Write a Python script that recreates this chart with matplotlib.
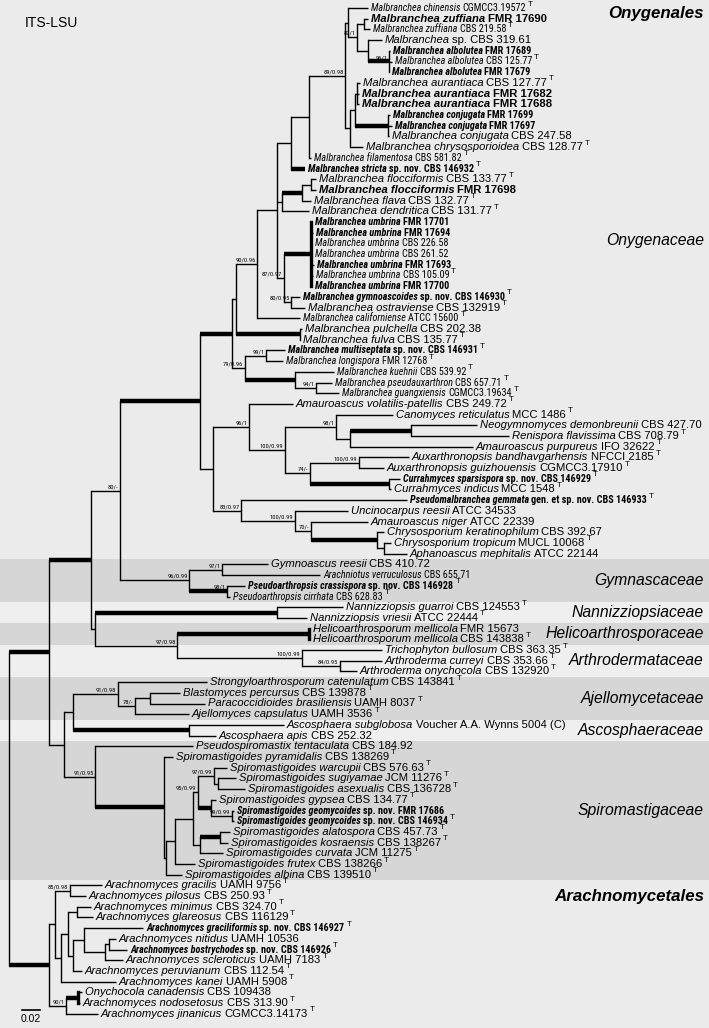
import os
import matplotlib
matplotlib.use("Agg")
import matplotlib.pyplot as plt
from matplotlib import font_manager
from matplotlib.font_manager import FontProperties

W, H = 709, 1028
ROW0, ROW_STEP = 8.0, 10.7

# tip labels, top to bottom
TAXA = [
    "Malbranchea chinensis", "Malbranchea zuffiana", "Malbranchea zuffiana", "Malbranchea",
    "Malbranchea albolutea", "Malbranchea albolutea", "Malbranchea albolutea",
    "Malbranchea aurantiaca", "Malbranchea aurantiaca", "Malbranchea aurantiaca",
    "Malbranchea conjugata", "Malbranchea conjugata", "Malbranchea conjugata",
    "Malbranchea chrysosporioidea", "Malbranchea filamentosa", "Malbranchea stricta",
    "Malbranchea flocciformis", "Malbranchea flocciformis", "Malbranchea flava",
    "Malbranchea dendritica", "Malbranchea umbrina", "Malbranchea umbrina",
    "Malbranchea umbrina", "Malbranchea umbrina", "Malbranchea umbrina",
    "Malbranchea umbrina", "Malbranchea umbrina", "Malbranchea gymnoascoides",
    "Malbranchea ostraviense", "Malbranchea californiense", "Malbranchea pulchella",
    "Malbranchea fulva", "Malbranchea multiseptata", "Malbranchea longispora",
    "Malbranchea kuehnii", "Malbranchea pseudauxarthron", "Malbranchea guangxiensis",
    "Amauroascus volatilis-patellis", "Canomyces reticulatus", "Neogymnomyces demonbreunii",
    "Renispora flavissima", "Amauroascus purpureus", "Auxarthronopsis bandhavgarhensis",
    "Auxarthronopsis guizhouensis", "Currahmyces sparsispora", "Currahmyces indicus",
    "Pseudomalbranchea gemmata", "Uncinocarpus reesii", "Amauroascus niger",
    "Chrysosporium keratinophilum", "Chrysosporium tropicum", "Aphanoascus mephitalis",
    "Gymnoascus reesii", "Arachniotus verruculosus", "Pseudoarthropsis crassispora",
    "Pseudoarthropsis cirrhata", "Nannizziopsis guarroi", "Nannizziopsis vriesii",
    "Helicoarthrosporum mellicola", "Helicoarthrosporum mellicola", "Trichophyton bullosum",
    "Arthroderma curreyi", "Arthroderma onychocola", "Strongyloarthrosporum catenulatum",
    "Blastomyces percursus", "Paracoccidioides brasiliensis", "Ajellomyces capsulatus",
    "Ascosphaera subglobosa", "Ascosphaera apis", "Pseudospiromastix tentaculata",
    "Spiromastigoides pyramidalis", "Spiromastigoides warcupii", "Spiromastigoides sugiyamae",
    "Spiromastigoides asexualis", "Spiromastigoides gypsea", "Spiromastigoides geomycoides",
    "Spiromastigoides geomycoides", "Spiromastigoides alatospora", "Spiromastigoides kosraensis",
    "Spiromastigoides curvata", "Spiromastigoides frutex", "Spiromastigoides albina",
    "Arachnomyces gracilis", "Arachnomyces pilosus", "Arachnomyces minimus",
    "Arachnomyces glareosus", "Arachnomyces graciliformis", "Arachnomyces nitidus",
    "Arachnomyces bostrychodes", "Arachnomyces scleroticus", "Arachnomyces peruvianum",
    "Arachnomyces kanei", "Onychocola canadensis", "Arachnomyces nodosetosus",
    "Arachnomyces jinanicus",
]
STRAINS = [
    "CGMCC3.19572", "FMR 17690", "CBS 219.58", "sp. CBS 319.61",
    "FMR 17689", "CBS 125.77", "FMR 17679",
    "CBS 127.77", "FMR 17682", "FMR 17688",
    "FMR 17699", "FMR 17697", "CBS 247.58",
    "CBS 128.77", "CBS 581.82", "sp. nov. CBS 146932",
    "CBS 133.77", "FMR 17698", "CBS 132.77",
    "CBS 131.77", "FMR 17701", "FMR 17694",
    "CBS 226.58", "CBS 261.52", "FMR 17693",
    "CBS 105.09", "FMR 17700", "sp. nov. CBS 146930",
    "CBS 132919", "ATCC 15600", "CBS 202.38",
    "CBS 135.77", "sp. nov. CBS 146931", "FMR 12768",
    "CBS 539.92", "CBS 657.71", "CGMCC3.19634",
    "CBS 249.72", "MCC 1486", "CBS 427.70",
    "CBS 708.79", "IFO 32622", "NFCCI 2185",
    "CGMCC3.17910", "sp. nov. CBS 146929", "MCC 1548",
    "gen. et sp. nov. CBS 146933", "ATCC 34533", "ATCC 22339",
    "CBS 392.67", "MUCL 10068", "ATCC 22144",
    "CBS 410.72", "CBS 655.71", "sp. nov. CBS 146928",
    "CBS 628.83", "CBS 124553", "ATCC 22444",
    "FMR 15673", "CBS 143838", "CBS 363.35",
    "CBS 353.66", "CBS 132920", "CBS 143841",
    "CBS 139878", "UAMH 8037", "UAMH 3536",
    "Voucher A.A. Wynns 5004 (C)", "CBS 252.32", "CBS 184.92",
    "CBS 138269", "CBS 576.63", "JCM 11276",
    "CBS 136728", "CBS 134.77", "sp. nov. FMR 17686",
    "sp. nov. CBS 146934", "CBS 457.73", "CBS 138267",
    "JCM 11275", "CBS 138266", "CBS 139510",
    "UAMH 9756", "CBS 250.93", "CBS 324.70",
    "CBS 116129", "sp. nov. CBS 146927", "UAMH 10536",
    "sp. nov. CBS 146926", "UAMH 7183", "CBS 112.54",
    "UAMH 5908", "CBS 109438", "CBS 313.90",
    "CGMCC3.14173",
]
BOLD_TIPS = [1, 4, 6, 8, 9, 10, 11, 15, 17, 20, 21, 24, 26, 27, 32, 44, 46, 54, 75, 76, 86, 88]
NOT_TYPE = [1, 3, 4, 6, 8, 9, 10, 11, 12, 17, 20, 21, 22, 23, 24, 26, 30, 39, 47, 48, 49,
            51, 52, 53, 58, 67, 68, 69, 75, 87, 92]
# labels set in the wider face in the original
WIDE_TIPS = [1, 3, 7, 8, 9, 12, 13, 16, 17, 18, 19, 28, 30, 31, 37, 38, 39, 40, 41, 42, 43,
             45, 47, 48, 49, 50, 51, 52, 56, 57, 58, 59, 60, 61, 62, 63, 64, 65, 66, 67, 68,
             69, 70, 71, 72, 73, 74, 77, 78, 79, 80, 81, 82, 83, 84, 85, 87, 89, 90, 91, 92,
             93, 94]

# distance from root of each tip (units: 18 = 0.02 subst./site)
TIP_X = [
    359, 359, 361, 373, 381, 383, 380, 351, 350, 350, 381, 383, 380, 354, 302, 296,
    307, 307, 302, 300, 303, 304, 303, 303, 305, 304, 303, 291, 296, 291, 293, 291,
    276, 274, 325, 323, 330, 284, 384, 468, 500, 464, 400, 375, 391, 382, 398, 339,
    359, 375, 382, 398, 259, 311, 236, 221, 334, 298, 301, 301, 373, 373, 348, 198,
    171, 196, 180, 275, 207, 184, 164, 218, 227, 236, 207, 225, 225, 221, 219, 214,
    186, 173, 93, 77, 82, 84, 134, 107, 118, 114, 73, 107, 73, 71, 89,
]
THICK_TIPS = [15]

# internal nodes: name, distance from root, children (tip index or node name), support, bold branch
NODES = [
    ("zuf", 355, [1, 2], "", False),
    ("alb", 380, [4, 5, 6], "96/1", True),
    ("spalb", 359, [3, "alb"], "", False),
    ("c87", 348, ["zuf", "spalb"], "87/1", False),
    ("top", 339, [0, "c87"], "", False),
    ("aur", 348, [7, 8, 9], "", False),
    ("conj", 379, [10, 11, 12], "", True),
    ("aurconj", 346, ["aur", "conj"], "", False),
    ("chrys", 341, ["aurconj", 13], "", False),
    ("c89", 336, ["top", "chrys"], "89/0.98", False),
    ("fil", 300, ["c89", 14], "", False),
    ("str", 282, ["fil", 15], "", False),
    ("floc", 302, [16, 17], "", False),
    ("ff", 293, ["floc", 18], "", True),
    ("den", 273, ["ff", 19], "", False),
    ("umb", 302, [20, 21, 22, 23, 24, 25, 26], "", True),
    ("go", 282, [27, 28], "80/0.95", False),
    ("umbgo", 275, ["umb", "go"], "87/0.97", False),
    ("X", 268, ["str", "den", "umbgo"], "", False),
    ("c90", 248, ["X", 29], "90/0.96", False),
    ("pf", 291, [30, 31], "", True),
    ("M1", 227, ["c90", "pf"], "", False),
    ("ml", 257, [32, 33], "99/1", False),
    ("pg", 307, [35, 36], "94/1", False),
    ("kpg", 286, [34, "pg"], "", True),
    ("M2", 236, ["ml", "kpg"], "79/0.96", False),
    ("M0", 223, ["M1", "M2"], "", True),
    ("nr", 402, [39, 40], "", True),
    ("n350", 341, ["nr", 41], "", False),
    ("c98", 327, [38, "n350"], "98/1", False),
    ("aux", 350, [42, 43], "100/0.99", False),
    ("curr", 380, [44, 45], "", True),
    ("c74", 301, ["aux", "curr"], "74/-", False),
    ("c100a", 276, ["c98", "c74"], "100/0.99", False),
    ("c96", 240, [37, "c100a"], "96/1", False),
    ("ta", 375, [50, 51], "", False),
    ("chr", 368, [49, "ta"], "", True),
    ("c70", 302, [48, "chr"], "70/-", False),
    ("unc", 286, [47, "c70"], "100/0.99", False),
    ("c83", 232, [46, "unc"], "83/0.97", False),
    ("n213", 204, ["c96", "c83"], "", False),
    ("O", 191, ["M0", "n213"], "", True),
    ("ga", 213, [52, 53], "97/1", False),
    ("ps", 218, [54, 55], "98/1", True),
    ("gym", 180, ["ga", "ps"], "96/0.99", False),
    ("c80", 111, ["O", "gym"], "80/-", False),
    ("nan", 268, [56, 57], "", True),
    ("hel", 300, [58, 59], "", True),
    ("cu", 331, [61, 62], "84/0.95", False),
    ("art", 293, [60, "cu"], "100/0.99", False),
    ("ha", 168, ["hel", "art"], "97/0.98", False),
    ("N2", 86, ["nan", "ha"], "", False),
    ("N1", 82, ["c80", "N2"], "", True),
    ("bp", 141, [64, 65], "", False),
    ("c78", 126, ["bp", 66], "78/-", False),
    ("c91a", 109, [63, "c78"], "91/0.98", False),
    ("asc", 180, [67, 68], "", True),
    ("aa", 64, ["c91a", "asc"], "", False),
    ("sa", 209, [72, 73], "", False),
    ("c97", 205, [71, "sa"], "97/0.99", False),
    ("geo", 223, [75, 76], "99/0.99", False),
    ("gg", 202, [74, "geo"], "", True),
    ("c95", 189, ["c97", "gg"], "95/0.99", False),
    ("ak", 211, [77, 78], "", True),
    ("akc", 191, ["ak", 79], "", False),
    ("F", 184, ["c95", "akc"], "", False),
    ("E", 166, ["F", 80], "", False),
    ("sp3", 157, ["E", 81], "", False),
    ("sp2", 155, [70, "sp3"], "", True),
    ("spiro", 86, [69, "sp2"], "91/0.95", False),
    ("N3", 55, ["aa", "spiro"], "", False),
    ("ony", 40, ["N1", "N3"], "", True),
    ("c85", 61, [82, 83], "85/0.98", False),
    ("mg", 68, [84, 85], "", False),
    ("nb", 100, [87, 88], "", False),
    ("nbs", 96, ["nb", 89], "", False),
    ("gnbs", 75, [86, "nbs"], "", False),
    ("gp", 64, ["gnbs", 90], "", False),
    ("mgp", 59, ["mg", "gp"], "", False),
    ("k", 52, ["mgp", 91], "", False),
    ("ak2", 46, ["c85", "k"], "", False),
    ("on", 69, [92, 93], "", True),
    ("c90b", 57, ["on", 94], "90/1", False),
    ("arach", 40, ["ak2", "c90b"], "", True),
    ("root", 0, ["ony", "arach"], "", False),
]
ROOT_OFFSET = 9
# clades whose own vertical bar is drawn heavy
THICK_BARS = ["umb", "on", "hel"]

# shaded family bands (first tip, last tip, shade) and right-hand labels
BAND_FIRST = [52, 56, 58, 60, 63, 67, 69]
BAND_LAST = [55, 57, 59, 62, 66, 68, 81]
BAND_DARK = [True, False, True, False, True, False, True]
GROUP_NAMES = ["Onygenales", "Onygenaceae", "Gymnascaceae", "Nannizziopsiaceae",
               "Helicoarthrosporaceae", "Arthrodermataceae", "Ajellomycetaceae",
               "Ascosphaeraceae", "Spiromastigaceae", "Arachnomycetales"]
GROUP_ROW = [0.5, 21.7, 53.5, 56.5, 58.5, 61.0, 64.5, 67.5, 75.0, 83.0]
GROUP_ORDER = [True, False, False, False, False, False, False, False, False, True]

SCALE_LEN = 18
SCALE_TEXT = "0.02"

# condensed face for the narrow labels: regular, italic, bold, bold italic files
CONDENSED = [
    ["LiberationSansNarrow-Regular.ttf", "LiberationSansNarrow-Italic.ttf",
     "LiberationSansNarrow-Bold.ttf", "LiberationSansNarrow-BoldItalic.ttf"],
    ["RobotoCondensed-Regular.ttf", "RobotoCondensed-Italic.ttf",
     "RobotoCondensed-Bold.ttf", "RobotoCondensed-BoldItalic.ttf"],
    ["NotoSans-Condensed.ttf", "NotoSans-CondensedItalic.ttf",
     "NotoSans-CondensedBold.ttf", "NotoSans-CondensedBoldItalic.ttf"],
    ["DejaVuSansCondensed.ttf", "DejaVuSansCondensed-Oblique.ttf",
     "DejaVuSansCondensed-Bold.ttf", "DejaVuSansCondensed-BoldOblique.ttf"],
]
MAIN_FONT = "Liberation Sans"

by_name = {}
for f in font_manager.fontManager.ttflist:
    by_name.setdefault(os.path.basename(f.fname), f.fname)
for root in ["/usr/share/fonts", "/usr/local/share/fonts", os.path.expanduser("~/.fonts")]:
    for d, _, fs in os.walk(root):
        for fn in fs:
            by_name.setdefault(fn, os.path.join(d, fn))

narrow_files = None
for cand in CONDENSED:
    if all(c in by_name for c in cand):
        narrow_files = [by_name[c] for c in cand]
        break


def face(narrow, bold, italic, size):
    if narrow and narrow_files:
        return FontProperties(fname=narrow_files[2 * bold + italic], size=size)
    return FontProperties(family=MAIN_FONT, weight="bold" if bold else "normal",
                          style="italic" if italic else "normal", size=size)


BG = "#ebebeb"
LIGHT = "#efefef"
DARK = "#d6d6d6"

fig = plt.figure(figsize=(W / 100, H / 100), dpi=100, facecolor=BG)
ax = fig.add_axes([0, 0, 1, 1])
ax.set_xlim(0, W)
ax.set_ylim(H, 0)
ax.axis("off")
ax.set_facecolor(BG)
renderer = fig.canvas.get_renderer()


def measure(parts, narrow, size):
    w = 0
    for s, it in parts:
        t = ax.text(0, 0, s, fontproperties=face(narrow, False, it, size))
        w += t.get_window_extent(renderer=renderer).width + 0.3 * size
        t.remove()
    return w


# size the two faces so that reference labels get the widths seen in the figure
NARROW_FS = min(8.6, 10 * 158 / measure([("Malbranchea chinensis", True), ("CGMCC3.19572", False)], True, 10))
WIDE_FS = min(8.6, 10 * 216 / measure([("Spiromastigoides pyramidalis", True), ("CBS 138269", False)], False, 10))
SUP_FS = NARROW_FS * 0.64


def row_y(r):
    return ROW0 + ROW_STEP * r


for a, b, dark in zip(BAND_FIRST, BAND_LAST, BAND_DARK):
    ax.axhspan(row_y(a - 0.5), row_y(b + 0.5), color=DARK if dark else LIGHT, lw=0, zorder=0)

pos = {}
for i, x in enumerate(TIP_X):
    pos[i] = (x + ROOT_OFFSET, row_y(i))
for name, x, kids, sup, thick in NODES:
    ys = [pos[k][1] for k in kids]
    pos[name] = (x + ROOT_OFFSET, (ys[0] + ys[-1]) / 2)

thick_set = {n for n, _, _, _, t in NODES if t} | set(THICK_TIPS)
support = {n: s for n, _, _, s, _ in NODES}

for name, x, kids, sup, thick in NODES:
    nx, ny = pos[name]
    ys = [pos[k][1] for k in kids]
    bar_lw = 2.4 if name in THICK_BARS else 1.0
    ax.plot([nx, nx], [ys[0], ys[-1]], color="black", lw=bar_lw, solid_capstyle="projecting", zorder=2)
    for k in kids:
        cx, cy = pos[k]
        lw = 3.2 if k in thick_set else 1.0
        ax.plot([nx, cx], [cy, cy], color="black", lw=lw, solid_capstyle="butt", zorder=2)
        if isinstance(k, str) and support[k]:
            ax.text(cx - 1.5, cy - 1.5, support[k], ha="right", va="bottom",
                    fontproperties=face(True, False, False, SUP_FS), zorder=3)


def put(x, y, s, fp):
    t = ax.text(x, y, s, va="center", ha="left", zorder=3, fontproperties=fp)
    return x + t.get_window_extent(renderer=renderer).width


for i in range(len(TAXA)):
    x, y = pos[i]
    bold = i in BOLD_TIPS
    narrow = i not in WIDE_TIPS
    fs = NARROW_FS if narrow else WIDE_FS
    x = put(x + 3, y, TAXA[i], face(narrow, bold, True, fs))
    x = put(x + 0.3 * fs, y, STRAINS[i], face(narrow, bold, False, fs))
    if i not in NOT_TYPE:
        put(x + 2, y - 4, "T", FontProperties(family=MAIN_FONT, size=5.8))

for label, r, order in zip(GROUP_NAMES, GROUP_ROW, GROUP_ORDER):
    ax.text(704, row_y(r), label, ha="right", va="center", family=MAIN_FONT,
            style="italic", weight="bold" if order else "normal",
            fontsize=12.2 if order else 11.3, zorder=3)

ax.text(25, 23, "ITS-LSU", ha="left", va="center", family=MAIN_FONT, fontsize=10, zorder=3)

ax.plot([22, 22 + SCALE_LEN], [1010, 1010], color="black", lw=1.2)
ax.text(22 + SCALE_LEN / 2, 1019, SCALE_TEXT, ha="center", va="center",
        family=MAIN_FONT, fontsize=7.5)

fig.savefig("out.png", dpi=100, facecolor=BG)
